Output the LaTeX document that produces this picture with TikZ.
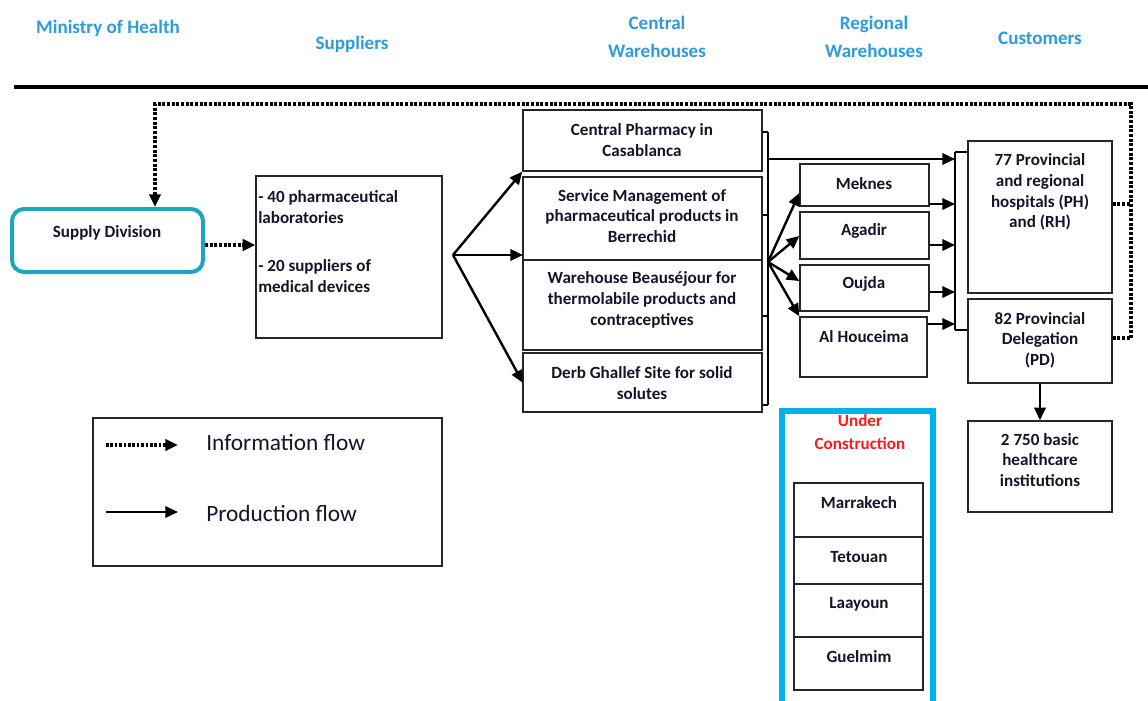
\documentclass[tikz,border=0pt]{standalone}
\usepackage{fontspec}
\setmainfont{Carlito}
\usetikzlibrary{arrows.meta,fit}
\definecolor{hdr}{HTML}{2E9BDA}
\definecolor{ink}{HTML}{14142A}
\definecolor{teal}{HTML}{1CA5C3}
\definecolor{sky}{HTML}{00B0F0}
\definecolor{warn}{HTML}{FF1A1A}
\begin{document}
\begin{tikzpicture}[x=0.75pt,y=-0.75pt,
  tip/.style={-{Triangle[length=9.5pt,width=8.5pt]}},
  flow/.style={draw=black,line width=1.8pt,tip},
  info/.style={draw=black,line width=3pt,dash pattern=on 2.2pt off 1.3pt},
  infoarrow/.style={info,tip},
  brace/.style={draw=black,line width=1.8pt},
  tick/.style={draw=black,line width=0.8pt},
  box/.style={draw=black!85,line width=1pt,inner sep=0pt},
  lbl/.style={font=\bfseries\fontsize{12.8}{15.5}\selectfont,align=center,text=ink,inner sep=0pt},
  head/.style={font=\bfseries\fontsize{14.3}{21}\selectfont,align=center,text=hdr,inner sep=0pt},
  legend/.style={font=\fontsize{17.5}{18}\selectfont,text=ink,anchor=west,inner sep=0pt}]
\useasboundingbox (0,0) rectangle (1148,700);
\fill[white] (0,0) rectangle (1148,700);

% column headings
\node[head] (hMoH) at (108,28) {Ministry of Health};
\node[head] (hSup) at (352,44) {Suppliers};
\node[head] (hCW)  at (657,37) {Central\\Warehouses};
\node[head] (hRW)  at (874,37) {Regional\\Warehouses};
\node[head] (hCu)  at (1040,38) {Customers};
\draw[line width=3.2pt] (14,87) -- (1148,87);

% Ministry of Health
\node[draw=teal,line width=3pt,rounded corners=9pt,inner sep=0pt,fit={(12,209) (203,272)}] (sd) {};
\node[lbl] at (107,233) {Supply Division};

% suppliers
\node[box,fit={(256,176) (442,338)}] (sup) {};
\node[lbl,align=left,anchor=west] at (258,207) {- 40 pharmaceutical\\laboratories};
\node[lbl,align=left,anchor=west] at (258,276) {- 20 suppliers of\\medical devices};

% central warehouses
\node[box,fit={(523,110) (762,171)}] (cp) {};
\node[lbl] at (642,140) {Central Pharmacy in\\Casablanca};
\node[box,fit={(523,177) (762,260)}] (sm) {};
\node[lbl] at (642,216) {Service Management of\\pharmaceutical products in\\Berrechid};
\node[box,fit={(523,260) (762,350)}] (wb) {};
\node[lbl] at (642,300) {Warehouse Beauséjour for\\thermolabile products and\\contraceptives};
\node[box,fit={(523,353) (762,412)}] (dg) {};
\node[lbl] at (642,383) {Derb Ghallef Site for solid\\solutes};

% regional warehouses
\node[box,fit={(800,164) (929,206)}] (mk) {};
\node[lbl] at (864,184) {Meknes};
\node[box,fit={(800,212) (929,259)}] (ag) {};
\node[lbl] at (864,231) {Agadir};
\node[box,fit={(800,265) (929,311)}] (oj) {};
\node[lbl] at (864,284) {Oujda};
\node[box,fit={(800,317) (927,377)}] (ah) {};
\node[lbl] at (864,337) {Al Houceima};

% customers
\node[box,fit={(968,141) (1112,293)}] (ph) {};
\node[lbl] at (1040,192) {77 Provincial\\and regional\\hospitals (PH)\\and (RH)};
\node[box,fit={(968,299) (1112,383)}] (pd) {};
\node[lbl] at (1040,340) {82 Provincial\\Delegation\\(PD)};
\node[box,fit={(968,421) (1112,512)}] (bh) {};
\node[lbl] at (1040,460) {2 750 basic\\healthcare\\institutions};

% warehouses under construction
\node[draw=sky,line width=4.5pt,inner sep=0pt,fit={(782,411) (933,712)}] (uc) {};
\node[lbl,text=warn,font=\bfseries\fontsize{12.8}{17}\selectfont] at (860,432) {Under\\Construction};
\node[box,fit={(794,483) (923,537)}] (mr) {};
\node[lbl] at (859,503) {Marrakech};
\node[box,fit={(794,537) (923,584)}] (tt) {};
\node[lbl] at (859,557) {Tetouan};
\node[box,fit={(794,584) (923,637)}] (la) {};
\node[lbl] at (859,604) {Laayoun};
\node[box,fit={(794,637) (923,690)}] (gu) {};
\node[lbl] at (859,657) {Guelmim};

% information flow loop
\draw[info] (ph.east |- 0,204) -- (1131,204);
\draw[infoarrow] (pd.east |- 0,338) -- (1131,338) -- (1131,104) -- (155,104) -- (155,0 |- sd.north);
\draw[infoarrow] (sd.east |- 0,245) -- (sup.west |- 0,245);

% suppliers to central warehouses
\coordinate (fanA) at (453,255);
\draw[flow] (fanA) -- (cp.south west);
\draw[flow] (fanA) -- (523,255);
\draw[flow] (fanA) -- (523,383);

% central warehouses gathered to one outlet
\coordinate (cb1) at (768,132);
\coordinate (cb2) at (768,405);
\draw[brace] (cb1) -- (cb2);
\draw[tick] (cp.east |- cb1) -- (cb1);
\draw[tick] (sm.east |- 0,215) -- (768,215);
\draw[tick] (wb.east |- 0,316) -- (768,316);
\draw[tick] (dg.east |- cb2) -- (cb2);

% customer bracket
\coordinate (rb1) at (955,152);
\coordinate (rb2) at (955,330);
\draw[brace] (rb1) -- (rb2);
\draw[tick] (rb1) -- (ph.west |- rb1);
\draw[tick] (rb2) -- (pd.west |- rb2);

% central to customers and regional
\draw[flow] (768,159) -- (rb1 |- 0,159);
\coordinate (fanB) at (768,262);
\draw[flow] (fanB) -- (mk.west |- 0,193);
\draw[flow] (fanB) -- (ag.west |- 0,236);
\draw[flow] (fanB) -- (oj.west |- 0,281);
\draw[flow] (fanB) -- (ah.north west);

% regional to customers
\draw[flow] (mk.east |- 0,204) -- (rb1 |- 0,204);
\draw[flow] (ag.east |- 0,245) -- (rb1 |- 0,245);
\draw[flow] (oj.east |- 0,292) -- (rb1 |- 0,292);
\draw[flow] (ah.east |- 0,324) -- (rb1 |- 0,324);

% delegation to basic institutions
\draw[flow] (pd.south) -- (bh.north);

% legend
\node[box,fit={(93,418) (442,566)}] (lg) {};
\coordinate (li1) at (106,445);
\coordinate (li2) at (178,445);
\coordinate (lp1) at (106,512);
\coordinate (lp2) at (178,512);
\draw[info,line width=2.6pt,dash pattern=on 2pt off 1.3pt,tip] (li1) -- (li2);
\draw[flow] (lp1) -- (lp2);
\node[legend] at (206,443) {Information flow};
\node[legend] at (206,513) {Production flow};
\end{tikzpicture}
\end{document}
